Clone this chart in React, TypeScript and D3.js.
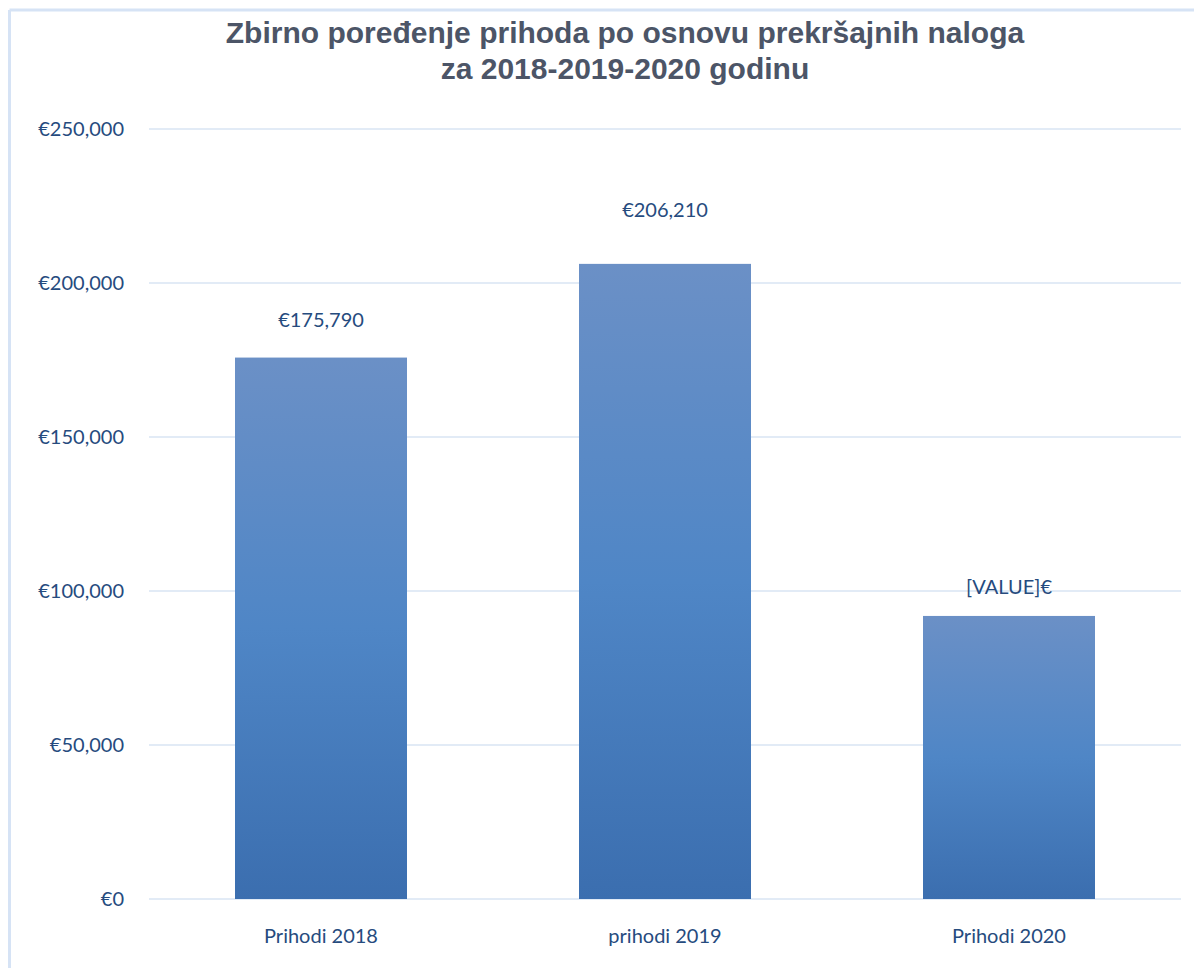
import React from "react";
import * as d3 from "d3";

const categories = ["Prihodi 2018", "prihodi 2019", "Prihodi 2020"];
const values = [175790, 206210, 91900];
const valueLabels = ["€175,790", "€206,210", "[VALUE]€"];
const labelDy = [-38, -54, -29];
const yTicks = [0, 50000, 100000, 150000, 200000, 250000];
const titleLines = ["Zbirno poređenje prihoda po osnovu prekršajnih naloga", "za 2018-2019-2020 godinu"];

const W = 1194;
const H = 968;
const left = 149;
const right = 1181;
const top = 129;
const bottom = 899;

export default function App() {
  const x = d3.scaleBand<string>().domain(categories).range([left, right]).paddingInner(0.5).paddingOuter(0.25);
  const y = d3.scaleLinear().domain([0, 250000]).range([bottom, top]);
  const fmt = (v: number) => "€" + d3.format(",")(v);
  const font = "Lato, 'Open Sans', sans-serif";
  const textColor = "#264B7E";
  return (
    <svg width={W} height={H} style={{ position: "absolute", left: 0, top: 0, background: "#fff" }}>
      <defs>
        <linearGradient id="barGrad" x1="0" y1="0" x2="0" y2="1">
          <stop offset="0" stopColor="#6B90C6" />
          <stop offset="0.5" stopColor="#4F86C6" />
          <stop offset="1" stopColor="#3B6EAF" />
        </linearGradient>
      </defs>
      <rect x={0} y={0} width={W} height={H} fill="#fff" />
      <line x1={9.5} y1={10} x2={W} y2={10} stroke="#D6E3F5" strokeWidth={3} />
      <line x1={9.5} y1={10} x2={9.5} y2={H} stroke="#D6E3F5" strokeWidth={3} />
      {titleLines.map((t, i) => (
        <text key={i} x={625} y={43 + i * 36} textAnchor="middle" fontFamily="'Liberation Sans', Arial, sans-serif" fontWeight="bold" fontSize={30} fill="#4C5567">
          {t}
        </text>
      ))}
      {yTicks.map((t) => (
        <g key={t}>
          <line x1={left} x2={right} y1={y(t)} y2={y(t)} stroke="#D9E4F3" strokeWidth={1.5} />
          <text x={124} y={y(t)} dy="0.35em" textAnchor="end" fontFamily={font} fontSize={20} fill={textColor}>
            {fmt(t)}
          </text>
        </g>
      ))}
      {categories.map((c, i) => (
        <g key={c}>
          <rect x={x(c)} y={y(values[i])} width={x.bandwidth()} height={y(0) - y(values[i])} fill="url(#barGrad)" />
          <text x={(x(c) as number) + x.bandwidth() / 2} y={y(values[i]) + labelDy[i]} dy="0.35em" textAnchor="middle" fontFamily={font} fontSize={20} fill={textColor}>
            {valueLabels[i]}
          </text>
          <text x={(x(c) as number) + x.bandwidth() / 2} y={936} dy="0.35em" textAnchor="middle" fontFamily={font} fontSize={20} fill={textColor}>
            {c}
          </text>
        </g>
      ))}
    </svg>
  );
}
